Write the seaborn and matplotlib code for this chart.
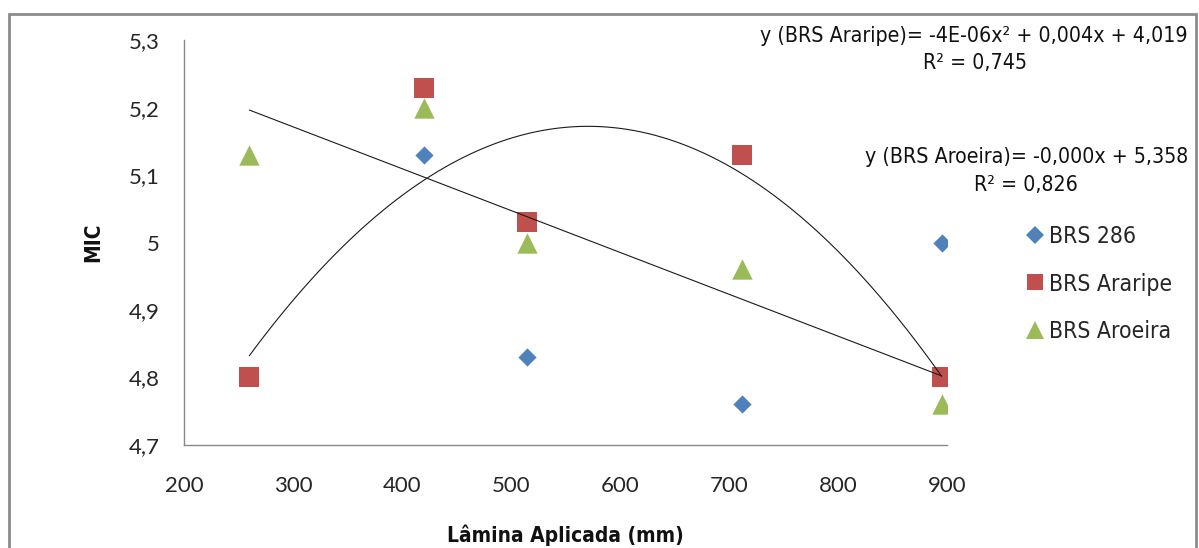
import matplotlib
matplotlib.use("Agg")
import matplotlib.pyplot as plt
import seaborn as sns
import pandas as pd
from matplotlib.patches import Rectangle
from matplotlib.lines import Line2D
from matplotlib.ticker import FuncFormatter

# ---- data ----
lamina = [260, 420, 515, 712, 895]
brs286 = [4.80, 5.13, 4.83, 4.76, 5.00]
araripe = [4.80, 5.23, 5.03, 5.13, 4.80]
aroeira = [5.13, 5.20, 5.00, 4.96, 4.76]
series_names = ["BRS 286", "BRS Araripe", "BRS Aroeira"]
eq_araripe = "y (BRS Araripe)= -4E-06x² + 0,004x + 4,019"
r2_araripe = "R² = 0,745"
eq_aroeira = "y (BRS Aroeira)= -0,000x + 5,358"
r2_aroeira = "R² = 0,826"
x_ticks = [200, 300, 400, 500, 600, 700, 800, 900]
y_ticks = [4.7, 4.8, 4.9, 5.0, 5.1, 5.2, 5.3]

sns.set_style("white")
plt.rcParams["font.family"] = ["Lato", "DejaVu Sans"]
COND = dict(family=["DejaVu Sans"], fontstretch="condensed")

colors = {"BRS 286": "#4F81BD", "BRS Araripe": "#C0504D", "BRS Aroeira": "#9BBB59"}
markers = {"BRS 286": "D", "BRS Araripe": "s", "BRS Aroeira": "^"}
sizes = {"BRS 286": 86, "BRS Araripe": 205, "BRS Aroeira": 215}

W, H = 1199, 548
L, R, T, B = 184, 947, 40.5, 444.6
fig = plt.figure(figsize=(W / 100, H / 100), dpi=100)
ax = fig.add_axes([L / W, 1 - B / H, (R - L) / W, (B - T) / H])

df = pd.DataFrame({"x": lamina * 3,
                   "y": brs286 + araripe + aroeira,
                   "s": sum([[n] * len(lamina) for n in series_names], [])})

for name in series_names:
    sub = df[df.s == name]
    sns.scatterplot(data=sub, x="x", y="y", ax=ax, color=colors[name],
                    marker=markers[name], s=sizes[name], linewidth=0, zorder=3)

sns.regplot(data=df[df.s == "BRS Araripe"], x="x", y="y", order=2, ci=None,
            scatter=False, ax=ax, line_kws=dict(color="#1a1a1a", lw=0.8, zorder=4))
sns.regplot(data=df[df.s == "BRS Aroeira"], x="x", y="y", order=1, ci=None,
            scatter=False, ax=ax, line_kws=dict(color="#1a1a1a", lw=0.8, zorder=4))

ax.set_xlim(200, 900)
ax.set_ylim(4.7, 5.3)
ax.set_xticks(x_ticks)
ax.set_yticks(y_ticks)
ax.yaxis.set_major_formatter(FuncFormatter(
    lambda v, p: (f"{v:.1f}".rstrip("0").rstrip(".")).replace(".", ",")))
ax.tick_params(axis="both", which="both", direction="out", length=5.5, width=1,
               color="#888888", labelsize=16, labelcolor="#262626")
ax.tick_params(axis="y", pad=12)
ax.tick_params(axis="x", pad=17)
for side in ["top", "right"]:
    ax.spines[side].set_visible(False)
for side in ["left", "bottom"]:
    ax.spines[side].set_color("#888888")
    ax.spines[side].set_linewidth(1)

ax.set_xlabel("Lâmina Aplicada (mm)", fontweight="bold", fontsize=15, color="#111111", **COND)
ax.set_ylabel("MIC", fontweight="bold", fontsize=15, color="#111111", **COND)
ax.xaxis.label.set_va("center")
ax.yaxis.label.set_va("center")
ax.xaxis.set_label_coords(0.5, -(535 - B) / (B - T))
ax.yaxis.set_label_coords((93 - L) / (R - L), 0.5)

# equations
def ftext(px, py, s, ha):
    fig.text(px / W, 1 - py / H, s, ha=ha, va="center", fontsize=15.3,
             color="#111111", **COND)

ftext(1188, 36, eq_araripe, "right")
ftext(975, 63, r2_araripe, "center")
ftext(1188, 157, eq_aroeira, "right")
ftext(1026, 185, r2_aroeira, "center")

# legend
handles = [Line2D([], [], linestyle="none", marker=markers[n], color=colors[n],
                  markersize=(sizes[n] ** 0.5) * (0.85 if n != "BRS 286" else 1.0),
                  markeredgewidth=0) for n in series_names]
leg = fig.legend(handles, series_names, loc="center left",
                 bbox_to_anchor=(1005 / W, 1 - 284 / H), frameon=False,
                 handlelength=0.8, handletextpad=0.2, labelspacing=1.05,
                 prop={"family": ["DejaVu Sans"], "stretch": "condensed", "size": 16.5})

# outer frame
fig.patches.append(Rectangle((8.5 / W, -0.05), (1196 - 8.5) / W, 1.05 - 14 / H,
                             transform=fig.transFigure, fill=False,
                             edgecolor="#8c8c8c", linewidth=2))

fig.savefig("out.png", dpi=100)
